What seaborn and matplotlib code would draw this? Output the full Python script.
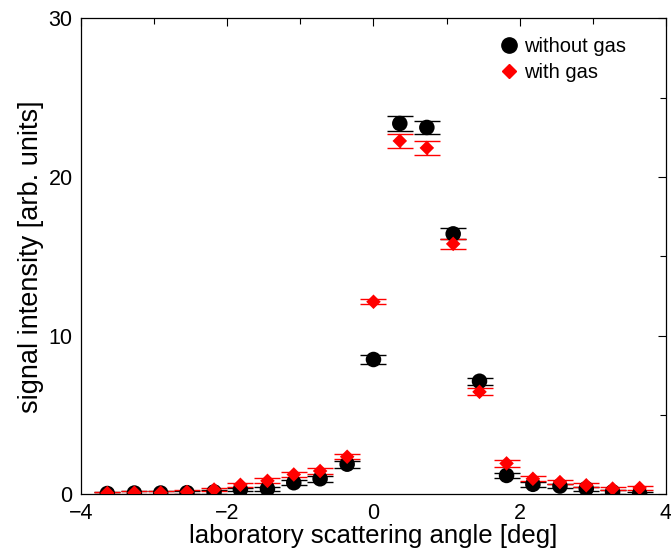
import numpy as np
import pandas as pd
import matplotlib
matplotlib.use("Agg")
import matplotlib.pyplot as plt
import seaborn as sns
from matplotlib.ticker import MultipleLocator
from matplotlib.lines import Line2D

sns.set_theme(style="white")
plt.rcParams['font.family'] = ['Liberation Sans', 'DejaVu Sans']
plt.rcParams['text.color'] = 'black'
plt.rcParams['axes.labelcolor'] = 'black'
plt.rcParams['xtick.color'] = 'black'
plt.rcParams['ytick.color'] = 'black'

# laboratory angle [deg]
angle = [-3.64, -3.27, -2.91, -2.55, -2.18, -1.82, -1.45, -1.09, -0.73, -0.36,
         0.0, 0.36, 0.73, 1.09, 1.45, 1.82, 2.18, 2.55, 2.91, 3.27, 3.64]

without_gas = [0.05, 0.08, 0.08, 0.1, 0.15, 0.3, 0.35, 0.73, 0.98, 1.9,
               8.5, 23.38, 23.13, 16.42, 7.13, 1.19, 0.63, 0.52, 0.36, 0.15, 0.04]
without_err = [0.1, 0.1, 0.1, 0.1, 0.1, 0.12, 0.12, 0.15, 0.18, 0.22,
               0.3, 0.45, 0.42, 0.35, 0.22, 0.18, 0.15, 0.14, 0.12, 0.1, 0.1]

with_gas = [0.08, 0.1, 0.1, 0.15, 0.3, 0.6, 0.85, 1.25, 1.47, 2.37,
            12.14, 22.28, 21.84, 15.79, 6.46, 1.95, 0.98, 0.77, 0.57, 0.36, 0.4]
with_err = [0.08, 0.08, 0.08, 0.1, 0.1, 0.13, 0.15, 0.17, 0.18, 0.16,
            0.15, 0.45, 0.42, 0.33, 0.22, 0.2, 0.17, 0.15, 0.13, 0.1, 0.1]

df = pd.DataFrame({
    'angle': angle * 2,
    'signal': without_gas + with_gas,
    'err': without_err + with_err,
    'sample': ['without gas'] * len(angle) + ['with gas'] * len(angle),
})

fig, ax = plt.subplots(figsize=(6.71, 5.52), dpi=100)
fig.subplots_adjust(left=0.1207, right=0.9925, top=0.9665, bottom=0.1045)

colors = {'without gas': 'black', 'with gas': 'red'}
markers = {'without gas': 'o', 'with gas': 'D'}
sizes = {'without gas': 125, 'with gas': 55}

for name in ['without gas', 'with gas']:
    sub = df[df['sample'] == name]
    ax.errorbar(sub['angle'], sub['signal'], yerr=sub['err'], fmt='none',
                ecolor=colors[name], elinewidth=1.0, capsize=9.5, capthick=1.0,
                zorder=2)
    sns.scatterplot(data=sub, x='angle', y='signal', ax=ax, color=colors[name],
                    marker=markers[name], s=sizes[name], edgecolor='none',
                    legend=False, zorder=3)

ax.set_xlim(-4, 4)
ax.set_ylim(0, 30)
ax.xaxis.set_major_locator(MultipleLocator(2))
ax.xaxis.set_minor_locator(MultipleLocator(1))
ax.yaxis.set_major_locator(MultipleLocator(10))
ax.yaxis.set_minor_locator(MultipleLocator(5))
ax.tick_params(which='both', direction='in', top=True, right=True,
               labelsize=15.5, color='black', width=0.8)
ax.tick_params(which='major', length=6, pad=6)
ax.tick_params(which='minor', length=4)
for sp in ax.spines.values():
    sp.set_color('black')
    sp.set_linewidth(0.9)

ax.set_xlabel('laboratory scattering angle [deg]', fontsize=18.5, labelpad=0)
ax.set_ylabel('signal intensity [arb. units]', fontsize=19.5, labelpad=3)

handles = [Line2D([], [], linestyle='none', marker='o', color='black', markersize=11),
           Line2D([], [], linestyle='none', marker='D', color='red', markersize=7.5)]
ax.legend(handles, ['without gas', 'with gas'], loc='upper right', frameon=False,
          fontsize=14.5, handlelength=0.6, handletextpad=0.4, labelspacing=0.35,
          borderaxespad=0.3, bbox_to_anchor=(0.955, 0.99))

fig.savefig('out.png', dpi=100)
